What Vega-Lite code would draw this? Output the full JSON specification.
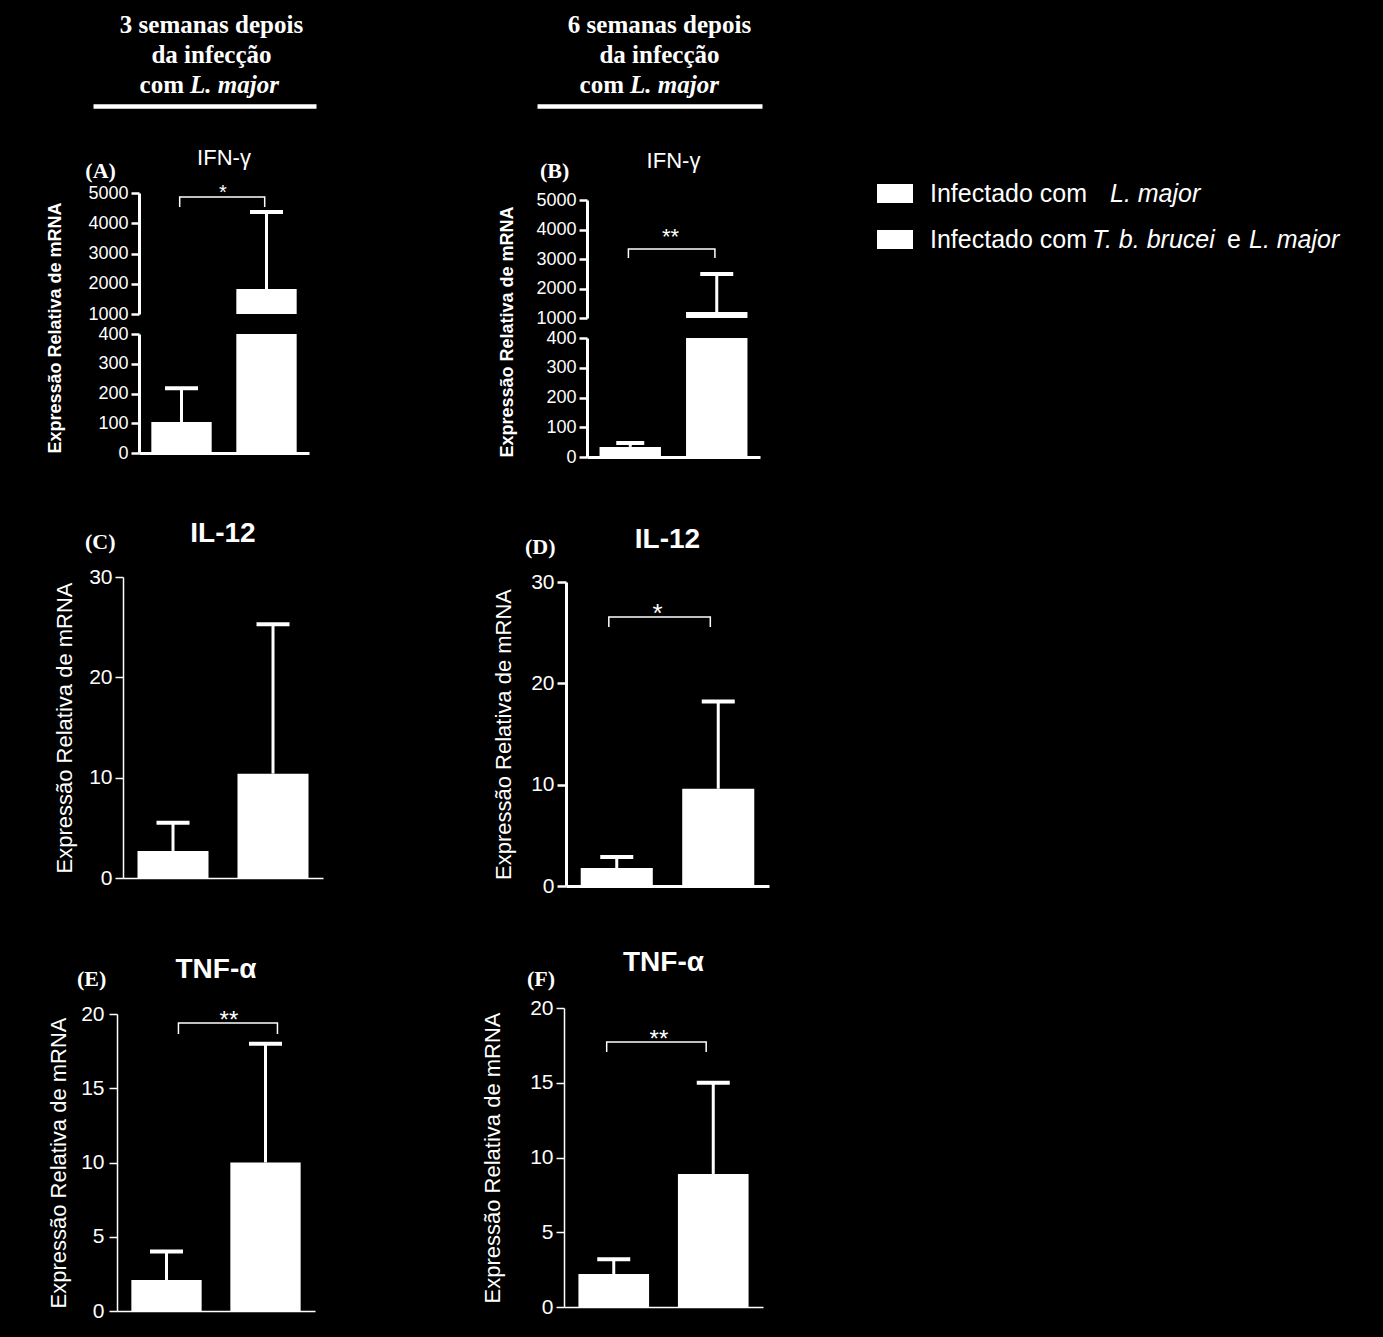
{
"$schema": "https://vega.github.io/schema/vega-lite/v6.json",
"background": "black",
"padding": 0,
"autosize": {"type": "pad"},
"config": {
  "view": {"stroke": null},
  "font": "Liberation Sans",
  "axis": {"grid": false, "domainColor": "white", "tickColor": "white", "labelColor": "white", "titleColor": "white", "labelFont": "Liberation Sans", "titleFont": "Liberation Sans", "labelPadding": 3, "tickSize": 8, "labelOverlap": false, "format": "d"}
},
"datasets": {
  "bars": [
    {"panel":"A","group":"Lm","mean":104,"upper":218},
    {"panel":"A","group":"TbLm","mean":1826,"upper":4372},
    {"panel":"B","group":"Lm","mean":34,"upper":47},
    {"panel":"B","group":"TbLm","mean":1200,"upper":2490},
    {"panel":"C","group":"Lm","mean":2.7,"upper":5.5},
    {"panel":"C","group":"TbLm","mean":10.4,"upper":25.3},
    {"panel":"D","group":"Lm","mean":1.78,"upper":2.86},
    {"panel":"D","group":"TbLm","mean":9.6,"upper":18.2},
    {"panel":"E","group":"Lm","mean":2.09,"upper":4.0},
    {"panel":"E","group":"TbLm","mean":10.0,"upper":18.0},
    {"panel":"F","group":"Lm","mean":2.2,"upper":3.2},
    {"panel":"F","group":"TbLm","mean":8.9,"upper":15.0}
  ],
  "brackets": [
    {"panel":"A","group":"Lm","y":4537,"o":1},{"panel":"A","group":"Lm","y":4868,"o":2},{"panel":"A","group":"TbLm","y":4868,"o":3},{"panel":"A","group":"TbLm","y":4537,"o":4},
    {"panel":"B","group":"Lm","y":3034,"o":1},{"panel":"B","group":"Lm","y":3339,"o":2},{"panel":"B","group":"TbLm","y":3339,"o":3},{"panel":"B","group":"TbLm","y":3034,"o":4},
    {"panel":"D","group":"Lm","y":25.56,"o":1},{"panel":"D","group":"Lm","y":26.55,"o":2},{"panel":"D","group":"TbLm","y":26.55,"o":3},{"panel":"D","group":"TbLm","y":25.56,"o":4},
    {"panel":"E","group":"Lm","y":18.65,"o":1},{"panel":"E","group":"Lm","y":19.39,"o":2},{"panel":"E","group":"TbLm","y":19.39,"o":3},{"panel":"E","group":"TbLm","y":18.65,"o":4},
    {"panel":"F","group":"Lm","y":17.06,"o":1},{"panel":"F","group":"Lm","y":17.73,"o":2},{"panel":"F","group":"TbLm","y":17.73,"o":3},{"panel":"F","group":"TbLm","y":17.06,"o":4}
  ],
  "stars": [
    {"panel":"A","text":"*","y":4808},
    {"panel":"B","text":"**","y":3525},
    {"panel":"D","text":"*","y":26.1},
    {"panel":"E","text":"**","y":19.09},
    {"panel":"F","text":"**","y":17.36}
  ],
  "panels": [
    {"panel":"A","letter":"(A)","name":"IFN-γ"},
    {"panel":"B","letter":"(B)","name":"IFN-γ"},
    {"panel":"C","letter":"(C)","name":"IL-12"},
    {"panel":"D","letter":"(D)","name":"IL-12"},
    {"panel":"E","letter":"(E)","name":"TNF-α"},
    {"panel":"F","letter":"(F)","name":"TNF-α"}
  ],
  "headers": [
    {"side":"L","line":1,"part":"main","text":"3 semanas depois"},
    {"side":"L","line":2,"part":"main","text":"da infecção"},
    {"side":"L","line":3,"part":"com","text":"com"},
    {"side":"L","line":3,"part":"ital","text":"L. major"},
    {"side":"R","line":1,"part":"main","text":"6 semanas depois"},
    {"side":"R","line":2,"part":"main","text":"da infecção"},
    {"side":"R","line":3,"part":"com","text":"com"},
    {"side":"R","line":3,"part":"ital","text":"L. major"}
  ],
  "legendRows": [
    {"row":1,"label":"Infectado com L. major"},
    {"row":2,"label":"Infectado com T. b. brucei e L. major"}
  ],
  "legendText": [
    {"row":1,"seg":"a","text":"Infectado com"},
    {"row":1,"seg":"b","text":"L. major"},
    {"row":2,"seg":"a","text":"Infectado com"},
    {"row":2,"seg":"c","text":"T. b. brucei"},
    {"row":2,"seg":"d","text":"e"},
    {"row":2,"seg":"e","text":"L. major"}
  ]
},
"columns": 3,
"spacing": 0,
"bounds": "flush",
"align": "each",
"concat": [
  {
    "width": 400, "height": 106,
    "layer": [
      {"data": {"name": "headers"}, "transform": [{"filter": "datum.side === 'L' && datum.part === 'main'"}],
       "mark": {"type": "text", "font": "Liberation Serif", "fontWeight": "bold", "fontSize": 25, "color": "white", "align": "center", "baseline": "alphabetic", "dx": 7},
       "encoding": {
         "x": {"datum": 0, "type": "quantitative", "scale": {"domain": [-1, 1], "range": [93, 316], "nice": false}, "axis": {"orient": "bottom", "domain": true, "domainWidth": 4.5, "ticks": false, "labels": false, "title": null}},
         "y": {"field": "line", "type": "quantitative", "scale": {"domain": [-0.11, 3.45], "range": [0, 106], "nice": false, "zero": false}, "axis": null},
         "text": {"field": "text"}}},
      {"data": {"name": "headers"}, "transform": [{"filter": "datum.side === 'L' && datum.part === 'com'"}],
       "mark": {"type": "text", "font": "Liberation Serif", "fontWeight": "bold", "fontSize": 25, "color": "white", "align": "right", "baseline": "alphabetic", "dx": -20.5},
       "encoding": {"x": {"datum": 0, "type": "quantitative"}, "y": {"field": "line", "type": "quantitative"}, "text": {"field": "text"}}},
      {"data": {"name": "headers"}, "transform": [{"filter": "datum.side === 'L' && datum.part === 'ital'"}],
       "mark": {"type": "text", "font": "Liberation Serif", "fontWeight": "bold", "fontStyle": "italic", "fontSize": 25, "color": "white", "align": "left", "baseline": "alphabetic", "dx": -14.5},
       "encoding": {"x": {"datum": 0, "type": "quantitative"}, "y": {"field": "line", "type": "quantitative"}, "text": {"field": "text"}}}
    ]
  },
  {
    "width": 460, "height": 106,
    "layer": [
      {"data": {"name": "headers"}, "transform": [{"filter": "datum.side === 'R' && datum.part === 'main'"}],
       "mark": {"type": "text", "font": "Liberation Serif", "fontWeight": "bold", "fontSize": 25, "color": "white", "align": "center", "baseline": "alphabetic", "dx": 10},
       "encoding": {
         "x": {"datum": 0, "type": "quantitative", "scale": {"domain": [-1, 1], "range": [137, 362], "nice": false}, "axis": {"orient": "bottom", "domain": true, "domainWidth": 4.5, "ticks": false, "labels": false, "title": null}},
         "y": {"field": "line", "type": "quantitative", "scale": {"domain": [-0.11, 3.45], "range": [0, 106], "nice": false, "zero": false}, "axis": null},
         "text": {"field": "text"}}},
      {"data": {"name": "headers"}, "transform": [{"filter": "datum.side === 'R' && datum.part === 'com'"}],
       "mark": {"type": "text", "font": "Liberation Serif", "fontWeight": "bold", "fontSize": 25, "color": "white", "align": "right", "baseline": "alphabetic", "dx": -25.5},
       "encoding": {"x": {"datum": 0, "type": "quantitative"}, "y": {"field": "line", "type": "quantitative"}, "text": {"field": "text"}}},
      {"data": {"name": "headers"}, "transform": [{"filter": "datum.side === 'R' && datum.part === 'ital'"}],
       "mark": {"type": "text", "font": "Liberation Serif", "fontWeight": "bold", "fontStyle": "italic", "fontSize": 25, "color": "white", "align": "left", "baseline": "alphabetic", "dx": -19.5},
       "encoding": {"x": {"datum": 0, "type": "quantitative"}, "y": {"field": "line", "type": "quantitative"}, "text": {"field": "text"}}}
    ]
  },
  {"width": 523, "height": 106, "data": {"values": []}, "mark": "point", "encoding": {}},

  {
    "width": 400, "height": 208,
    "layer": [
      {"data": {"name": "bars"}, "transform": [{"filter": "datum.panel === 'A' && datum.mean >= 1000"}],
       "mark": {"type": "bar", "color": "white"},
       "encoding": {
         "x": {"field": "group", "type": "nominal", "scale": {"domain": ["Lm", "TbLm"], "range": [139, 309], "paddingInner": 0.29, "paddingOuter": 0.145}, "axis": null},
         "y": {"field": "mean", "type": "quantitative", "scale": {"domain": [1000, 5000], "range": [208, 87], "nice": false, "zero": false, "clamp": true},
               "axis": {"title": null, "values": [1000, 2000, 3000, 4000, 5000], "labelOverlap": false, "offset": -139, "labelFontSize": 18, "domainWidth": 3, "tickWidth": 2.5}}}},
      {"data": {"name": "bars"}, "transform": [{"filter": "datum.panel === 'A' && datum.upper >= 1000"}],
       "mark": {"type": "rule", "color": "white", "strokeWidth": 3},
       "encoding": {"x": {"field": "group", "type": "nominal"}, "y": {"field": "mean", "type": "quantitative"}, "y2": {"field": "upper"}}},
      {"data": {"name": "bars"}, "transform": [{"filter": "datum.panel === 'A' && datum.upper >= 1000"}],
       "mark": {"type": "tick", "color": "white", "size": 33, "thickness": 4, "opacity": 1},
       "encoding": {"x": {"field": "group", "type": "nominal"}, "y": {"field": "upper", "type": "quantitative"}}},
      {"data": {"name": "brackets"}, "transform": [{"filter": "datum.panel === 'A'"}],
       "mark": {"type": "line", "color": "white", "strokeWidth": 1.5},
       "encoding": {"x": {"field": "group", "type": "nominal", "bandPosition": 0.47}, "y": {"field": "y", "type": "quantitative"}, "order": {"field": "o"}}},
      {"data": {"name": "stars"}, "transform": [{"filter": "datum.panel === 'A'"}],
       "mark": {"type": "text", "color": "white", "fontSize": 20, "align": "center", "baseline": "alphabetic"},
       "encoding": {"x": {"datum": "Lm", "bandPosition": 1.187}, "y": {"field": "y", "type": "quantitative"}, "text": {"field": "text"}}},
      {"data": {"name": "panels"}, "transform": [{"filter": "datum.panel === 'A'"}],
       "mark": {"type": "text", "color": "white", "font": "Liberation Serif", "fontWeight": "bold", "fontSize": 22, "align": "left", "baseline": "alphabetic", "dx": -66, "dy": -15},
       "encoding": {"x": {"datum": "Lm", "bandPosition": 0}, "y": {"datum": 5000}, "text": {"field": "letter"}}},
      {"data": {"name": "panels"}, "transform": [{"filter": "datum.panel === 'A'"}],
       "mark": {"type": "text", "color": "white", "fontSize": 22, "align": "center", "baseline": "alphabetic", "dy": -28},
       "encoding": {"x": {"datum": "Lm", "bandPosition": 1.204}, "y": {"datum": 5000}, "text": {"field": "name"}}}
    ]
  },
  {
    "width": 460, "height": 212,
    "layer": [
      {"data": {"name": "bars"}, "transform": [{"filter": "datum.panel === 'B' && datum.mean >= 1000"}],
       "mark": {"type": "bar", "color": "white"},
       "encoding": {
         "x": {"field": "group", "type": "nominal", "scale": {"domain": ["Lm", "TbLm"], "range": [187, 360], "paddingInner": 0.29, "paddingOuter": 0.145}, "axis": null},
         "y": {"field": "mean", "type": "quantitative", "scale": {"domain": [1000, 5000], "range": [212, 94], "nice": false, "zero": false, "clamp": true},
               "axis": {"title": null, "values": [1000, 2000, 3000, 4000, 5000], "labelOverlap": false, "offset": -187, "labelFontSize": 18, "domainWidth": 3, "tickWidth": 2.5}}}},
      {"data": {"name": "bars"}, "transform": [{"filter": "datum.panel === 'B' && datum.upper >= 1000"}],
       "mark": {"type": "rule", "color": "white", "strokeWidth": 3},
       "encoding": {"x": {"field": "group", "type": "nominal"}, "y": {"field": "mean", "type": "quantitative"}, "y2": {"field": "upper"}}},
      {"data": {"name": "bars"}, "transform": [{"filter": "datum.panel === 'B' && datum.upper >= 1000"}],
       "mark": {"type": "tick", "color": "white", "size": 33, "thickness": 4, "opacity": 1},
       "encoding": {"x": {"field": "group", "type": "nominal"}, "y": {"field": "upper", "type": "quantitative"}}},
      {"data": {"name": "brackets"}, "transform": [{"filter": "datum.panel === 'B'"}],
       "mark": {"type": "line", "color": "white", "strokeWidth": 1.5},
       "encoding": {"x": {"field": "group", "type": "nominal", "bandPosition": 0.47}, "y": {"field": "y", "type": "quantitative"}, "order": {"field": "o"}}},
      {"data": {"name": "stars"}, "transform": [{"filter": "datum.panel === 'B'"}],
       "mark": {"type": "text", "color": "white", "fontSize": 22, "align": "center", "baseline": "alphabetic"},
       "encoding": {"x": {"datum": "Lm", "bandPosition": 1.156}, "y": {"field": "y", "type": "quantitative"}, "text": {"field": "text"}}},
      {"data": {"name": "panels"}, "transform": [{"filter": "datum.panel === 'B'"}],
       "mark": {"type": "text", "color": "white", "font": "Liberation Serif", "fontWeight": "bold", "fontSize": 22, "align": "left", "baseline": "alphabetic", "dx": -59.5, "dy": -22},
       "encoding": {"x": {"datum": "Lm", "bandPosition": 0}, "y": {"datum": 5000}, "text": {"field": "letter"}}},
      {"data": {"name": "panels"}, "transform": [{"filter": "datum.panel === 'B'"}],
       "mark": {"type": "text", "color": "white", "fontSize": 22, "align": "center", "baseline": "alphabetic", "dy": -32},
       "encoding": {"x": {"datum": "Lm", "bandPosition": 1.204}, "y": {"datum": 5000}, "text": {"field": "name"}}}
    ]
  },
  {
    "width": 523, "height": 212,
    "layer": [
      {"data": {"name": "legendRows"},
       "mark": {"type": "point", "shape": "M0,-0.53H2V0.53H0Z", "size": 1296, "filled": true, "color": "white", "opacity": 1, "strokeWidth": 0},
       "encoding": {
         "x": {"datum": 0, "type": "quantitative", "scale": {"domain": [0, 1], "range": [17, 523], "nice": false}, "axis": null},
         "y": {"field": "row", "type": "ordinal", "scale": {"type": "point", "range": [87.5, 133.5], "padding": 0}, "axis": null}}},
      {"data": {"name": "legendText"}, "transform": [{"filter": "datum.seg === 'a'"}],
       "mark": {"type": "text", "color": "white", "fontSize": 25, "align": "left", "baseline": "middle", "dx": 53},
       "encoding": {"x": {"datum": 0, "type": "quantitative"}, "y": {"field": "row", "type": "ordinal"}, "text": {"field": "text"}}},
      {"data": {"name": "legendText"}, "transform": [{"filter": "datum.seg === 'b'"}],
       "mark": {"type": "text", "color": "white", "fontSize": 25, "fontStyle": "italic", "align": "left", "baseline": "middle", "dx": 233},
       "encoding": {"x": {"datum": 0, "type": "quantitative"}, "y": {"field": "row", "type": "ordinal"}, "text": {"field": "text"}}},
      {"data": {"name": "legendText"}, "transform": [{"filter": "datum.seg === 'c'"}],
       "mark": {"type": "text", "color": "white", "fontSize": 25, "fontStyle": "italic", "align": "left", "baseline": "middle", "dx": 215},
       "encoding": {"x": {"datum": 0, "type": "quantitative"}, "y": {"field": "row", "type": "ordinal"}, "text": {"field": "text"}}},
      {"data": {"name": "legendText"}, "transform": [{"filter": "datum.seg === 'd'"}],
       "mark": {"type": "text", "color": "white", "fontSize": 25, "align": "left", "baseline": "middle", "dx": 350},
       "encoding": {"x": {"datum": 0, "type": "quantitative"}, "y": {"field": "row", "type": "ordinal"}, "text": {"field": "text"}}},
      {"data": {"name": "legendText"}, "transform": [{"filter": "datum.seg === 'e'"}],
       "mark": {"type": "text", "color": "white", "fontSize": 25, "fontStyle": "italic", "align": "left", "baseline": "middle", "dx": 372},
       "encoding": {"x": {"datum": 0, "type": "quantitative"}, "y": {"field": "row", "type": "ordinal"}, "text": {"field": "text"}}}
    ]
  },

  {
    "width": 400, "height": 135,
    "layer": [
      {"data": {"name": "bars"}, "transform": [{"filter": "datum.panel === 'A'"}],
       "mark": {"type": "bar", "color": "white"},
       "encoding": {
         "x": {"field": "group", "type": "nominal", "scale": {"domain": ["Lm", "TbLm"], "range": [139, 309], "paddingInner": 0.29, "paddingOuter": 0.145}, "axis": {"labels": false, "ticks": false, "title": null, "domainWidth": 3}},
         "y": {"field": "mean", "type": "quantitative", "scale": {"domain": [0, 400], "range": [135, 16], "nice": false, "clamp": true},
               "axis": {"title": "Expressão Relativa de mRNA", "titleAnchor": "start", "titleFontSize": 18, "titleFontWeight": "bold", "titlePadding": 33, "values": [0, 100, 200, 300, 400], "tickCount": 5, "labelOverlap": false, "offset": -139, "labelFontSize": 18, "domainWidth": 3, "tickWidth": 2.5}}}},
      {"data": {"name": "bars"}, "transform": [{"filter": "datum.panel === 'A' && datum.upper <= 400"}],
       "mark": {"type": "rule", "color": "white", "strokeWidth": 3},
       "encoding": {"x": {"field": "group", "type": "nominal"}, "y": {"field": "mean", "type": "quantitative"}, "y2": {"field": "upper"}}},
      {"data": {"name": "bars"}, "transform": [{"filter": "datum.panel === 'A' && datum.upper <= 400"}],
       "mark": {"type": "tick", "color": "white", "size": 33, "thickness": 4, "opacity": 1},
       "encoding": {"x": {"field": "group", "type": "nominal"}, "y": {"field": "upper", "type": "quantitative"}}}
    ]
  },
  {
    "width": 460, "height": 139,
    "layer": [
      {"data": {"name": "bars"}, "transform": [{"filter": "datum.panel === 'B'"}],
       "mark": {"type": "bar", "color": "white"},
       "encoding": {
         "x": {"field": "group", "type": "nominal", "scale": {"domain": ["Lm", "TbLm"], "range": [187, 360], "paddingInner": 0.29, "paddingOuter": 0.145}, "axis": {"labels": false, "ticks": false, "title": null, "domainWidth": 3}},
         "y": {"field": "mean", "type": "quantitative", "scale": {"domain": [0, 400], "range": [139, 20], "nice": false, "clamp": true},
               "axis": {"title": "Expressão Relativa de mRNA", "titleAnchor": "start", "titleFontSize": 18, "titleFontWeight": "bold", "titlePadding": 29, "values": [0, 100, 200, 300, 400], "tickCount": 5, "labelOverlap": false, "offset": -187, "labelFontSize": 18, "domainWidth": 3, "tickWidth": 2.5}}}},
      {"data": {"name": "bars"}, "transform": [{"filter": "datum.panel === 'B' && datum.upper <= 400"}],
       "mark": {"type": "rule", "color": "white", "strokeWidth": 3},
       "encoding": {"x": {"field": "group", "type": "nominal"}, "y": {"field": "mean", "type": "quantitative"}, "y2": {"field": "upper"}}},
      {"data": {"name": "bars"}, "transform": [{"filter": "datum.panel === 'B' && datum.upper <= 400"}],
       "mark": {"type": "tick", "color": "white", "size": 28, "thickness": 4, "opacity": 1},
       "encoding": {"x": {"field": "group", "type": "nominal"}, "y": {"field": "upper", "type": "quantitative"}}}
    ]
  },
  {"width": 523, "height": 139, "data": {"values": []}, "mark": "point", "encoding": {}},

  {
    "width": 400, "height": 421,
    "layer": [
      {"data": {"name": "bars"}, "transform": [{"filter": "datum.panel === 'C'"}],
       "mark": {"type": "bar", "color": "white"},
       "encoding": {
         "x": {"field": "group", "type": "nominal", "scale": {"domain": ["Lm", "TbLm"], "range": [123, 323], "paddingInner": 0.29, "paddingOuter": 0.145}, "axis": {"labels": false, "ticks": false, "title": null, "domainWidth": 1.5}},
         "y": {"field": "mean", "type": "quantitative", "scale": {"domain": [0, 30], "range": [421, 120], "nice": false},
               "axis": {"title": "Expressão Relativa de mRNA", "titleFontSize": 22, "titleFontWeight": "normal", "titlePadding": 12.6, "values": [0, 10, 20, 30], "labelOverlap": false, "offset": -123, "labelFontSize": 21, "domainWidth": 1.5, "tickWidth": 1.5}}}},
      {"data": {"name": "bars"}, "transform": [{"filter": "datum.panel === 'C'"}],
       "mark": {"type": "rule", "color": "white", "strokeWidth": 3},
       "encoding": {"x": {"field": "group", "type": "nominal"}, "y": {"field": "mean", "type": "quantitative"}, "y2": {"field": "upper"}}},
      {"data": {"name": "bars"}, "transform": [{"filter": "datum.panel === 'C'"}],
       "mark": {"type": "tick", "color": "white", "size": 33, "thickness": 4, "opacity": 1},
       "encoding": {"x": {"field": "group", "type": "nominal"}, "y": {"field": "upper", "type": "quantitative"}}},
      {"data": {"name": "panels"}, "transform": [{"filter": "datum.panel === 'C'"}],
       "mark": {"type": "text", "color": "white", "font": "Liberation Serif", "fontWeight": "bold", "fontSize": 22, "align": "left", "baseline": "alphabetic", "dx": -52.5, "dy": -28},
       "encoding": {"x": {"datum": "Lm", "bandPosition": 0}, "y": {"datum": 30}, "text": {"field": "letter"}}},
      {"data": {"name": "panels"}, "transform": [{"filter": "datum.panel === 'C'"}],
       "mark": {"type": "text", "color": "white", "fontSize": 28, "fontWeight": "bold", "align": "center", "baseline": "alphabetic", "dy": -35},
       "encoding": {"x": {"datum": "Lm", "bandPosition": 1.204}, "y": {"datum": 30}, "text": {"field": "name"}}}
    ]
  },
  {
    "width": 460, "height": 429,
    "layer": [
      {"data": {"name": "bars"}, "transform": [{"filter": "datum.panel === 'D'"}],
       "mark": {"type": "bar", "color": "white"},
       "encoding": {
         "x": {"field": "group", "type": "nominal", "scale": {"domain": ["Lm", "TbLm"], "range": [166, 369], "paddingInner": 0.29, "paddingOuter": 0.145}, "axis": {"labels": false, "ticks": false, "title": null, "domainWidth": 3}},
         "y": {"field": "mean", "type": "quantitative", "scale": {"domain": [0, 30], "range": [429, 125], "nice": false},
               "axis": {"title": "Expressão Relativa de mRNA", "titleFontSize": 22, "titleFontWeight": "normal", "titlePadding": 15.6, "values": [0, 10, 20, 30], "labelOverlap": false, "offset": -166, "labelFontSize": 21, "domainWidth": 3, "tickWidth": 2.5, "tickSize": 9}}}},
      {"data": {"name": "bars"}, "transform": [{"filter": "datum.panel === 'D'"}],
       "mark": {"type": "rule", "color": "white", "strokeWidth": 3},
       "encoding": {"x": {"field": "group", "type": "nominal"}, "y": {"field": "mean", "type": "quantitative"}, "y2": {"field": "upper"}}},
      {"data": {"name": "bars"}, "transform": [{"filter": "datum.panel === 'D'"}],
       "mark": {"type": "tick", "color": "white", "size": 33, "thickness": 4, "opacity": 1},
       "encoding": {"x": {"field": "group", "type": "nominal"}, "y": {"field": "upper", "type": "quantitative"}}},
      {"data": {"name": "brackets"}, "transform": [{"filter": "datum.panel === 'D'"}],
       "mark": {"type": "line", "color": "white", "strokeWidth": 1.5},
       "encoding": {"x": {"field": "group", "type": "nominal", "bandPosition": 0.39}, "y": {"field": "y", "type": "quantitative"}, "order": {"field": "o"}}},
      {"data": {"name": "stars"}, "transform": [{"filter": "datum.panel === 'D'"}],
       "mark": {"type": "text", "color": "white", "fontSize": 26, "align": "center", "baseline": "alphabetic"},
       "encoding": {"x": {"datum": "Lm", "bandPosition": 1.065}, "y": {"field": "y", "type": "quantitative"}, "text": {"field": "text"}}},
      {"data": {"name": "panels"}, "transform": [{"filter": "datum.panel === 'D'"}],
       "mark": {"type": "text", "color": "white", "font": "Liberation Serif", "fontWeight": "bold", "fontSize": 22, "align": "left", "baseline": "alphabetic", "dx": -55.7, "dy": -28},
       "encoding": {"x": {"datum": "Lm", "bandPosition": 0}, "y": {"datum": 30}, "text": {"field": "letter"}}},
      {"data": {"name": "panels"}, "transform": [{"filter": "datum.panel === 'D'"}],
       "mark": {"type": "text", "color": "white", "fontSize": 28, "fontWeight": "bold", "align": "center", "baseline": "alphabetic", "dy": -34},
       "encoding": {"x": {"datum": "Lm", "bandPosition": 1.204}, "y": {"datum": 30}, "text": {"field": "name"}}}
    ]
  },
  {"width": 523, "height": 429, "data": {"values": []}, "mark": "point", "encoding": {}},

  {
    "width": 400, "height": 425,
    "layer": [
      {"data": {"name": "bars"}, "transform": [{"filter": "datum.panel === 'E'"}],
       "mark": {"type": "bar", "color": "white"},
       "encoding": {
         "x": {"field": "group", "type": "nominal", "scale": {"domain": ["Lm", "TbLm"], "range": [117, 315], "paddingInner": 0.29, "paddingOuter": 0.145}, "axis": {"labels": false, "ticks": false, "title": null, "domainWidth": 1.5}},
         "y": {"field": "mean", "type": "quantitative", "scale": {"domain": [0, 20], "range": [425, 128], "nice": false},
               "axis": {"title": "Expressão Relativa de mRNA", "titleFontSize": 22, "titleFontWeight": "normal", "titlePadding": 10.6, "values": [0, 5, 10, 15, 20], "labelOverlap": false, "offset": -117, "labelFontSize": 21, "labelPadding": 5, "domainWidth": 1.5, "tickWidth": 1.5}}}},
      {"data": {"name": "bars"}, "transform": [{"filter": "datum.panel === 'E'"}],
       "mark": {"type": "rule", "color": "white", "strokeWidth": 3},
       "encoding": {"x": {"field": "group", "type": "nominal"}, "y": {"field": "mean", "type": "quantitative"}, "y2": {"field": "upper"}}},
      {"data": {"name": "bars"}, "transform": [{"filter": "datum.panel === 'E'"}],
       "mark": {"type": "tick", "color": "white", "size": 33, "thickness": 4, "opacity": 1},
       "encoding": {"x": {"field": "group", "type": "nominal"}, "y": {"field": "upper", "type": "quantitative"}}},
      {"data": {"name": "brackets"}, "transform": [{"filter": "datum.panel === 'E'"}],
       "mark": {"type": "line", "color": "white", "strokeWidth": 1.5},
       "encoding": {"x": {"field": "group", "type": "nominal", "bandPosition": 0.67}, "y": {"field": "y", "type": "quantitative"}, "order": {"field": "o"}}},
      {"data": {"name": "stars"}, "transform": [{"filter": "datum.panel === 'E'"}],
       "mark": {"type": "text", "color": "white", "fontSize": 24, "align": "center", "baseline": "alphabetic"},
       "encoding": {"x": {"datum": "Lm", "bandPosition": 1.388}, "y": {"field": "y", "type": "quantitative"}, "text": {"field": "text"}}},
      {"data": {"name": "panels"}, "transform": [{"filter": "datum.panel === 'E'"}],
       "mark": {"type": "text", "color": "white", "font": "Liberation Serif", "fontWeight": "bold", "fontSize": 22, "align": "left", "baseline": "alphabetic", "dx": -54.4, "dy": -28},
       "encoding": {"x": {"datum": "Lm", "bandPosition": 0}, "y": {"datum": 20}, "text": {"field": "letter"}}},
      {"data": {"name": "panels"}, "transform": [{"filter": "datum.panel === 'E'"}],
       "mark": {"type": "text", "color": "white", "fontSize": 28, "fontWeight": "bold", "align": "center", "baseline": "alphabetic", "dy": -36},
       "encoding": {"x": {"datum": "Lm", "bandPosition": 1.204}, "y": {"datum": 20}, "text": {"field": "name"}}}
    ]
  },
  {
    "width": 460, "height": 421,
    "layer": [
      {"data": {"name": "bars"}, "transform": [{"filter": "datum.panel === 'F'"}],
       "mark": {"type": "bar", "color": "white"},
       "encoding": {
         "x": {"field": "group", "type": "nominal", "scale": {"domain": ["Lm", "TbLm"], "range": [164, 363], "paddingInner": 0.29, "paddingOuter": 0.145}, "axis": {"labels": false, "ticks": false, "title": null, "domainWidth": 1.5}},
         "y": {"field": "mean", "type": "quantitative", "scale": {"domain": [0, 20], "range": [421, 122], "nice": false},
               "axis": {"title": "Expressão Relativa de mRNA", "titleFontSize": 22, "titleFontWeight": "normal", "titlePadding": 25.6, "values": [0, 5, 10, 15, 20], "labelOverlap": false, "offset": -164, "labelFontSize": 21, "domainWidth": 1.5, "tickWidth": 1.5}}}},
      {"data": {"name": "bars"}, "transform": [{"filter": "datum.panel === 'F'"}],
       "mark": {"type": "rule", "color": "white", "strokeWidth": 3},
       "encoding": {"x": {"field": "group", "type": "nominal"}, "y": {"field": "mean", "type": "quantitative"}, "y2": {"field": "upper"}}},
      {"data": {"name": "bars"}, "transform": [{"filter": "datum.panel === 'F'"}],
       "mark": {"type": "tick", "color": "white", "size": 33, "thickness": 4, "opacity": 1},
       "encoding": {"x": {"field": "group", "type": "nominal"}, "y": {"field": "upper", "type": "quantitative"}}},
      {"data": {"name": "brackets"}, "transform": [{"filter": "datum.panel === 'F'"}],
       "mark": {"type": "line", "color": "white", "strokeWidth": 1.5},
       "encoding": {"x": {"field": "group", "type": "nominal", "bandPosition": 0.4}, "y": {"field": "y", "type": "quantitative"}, "order": {"field": "o"}}},
      {"data": {"name": "stars"}, "transform": [{"filter": "datum.panel === 'F'"}],
       "mark": {"type": "text", "color": "white", "fontSize": 24, "align": "center", "baseline": "alphabetic"},
       "encoding": {"x": {"datum": "Lm", "bandPosition": 1.14}, "y": {"field": "y", "type": "quantitative"}, "text": {"field": "text"}}},
      {"data": {"name": "panels"}, "transform": [{"filter": "datum.panel === 'F'"}],
       "mark": {"type": "text", "color": "white", "font": "Liberation Serif", "fontWeight": "bold", "fontSize": 22, "align": "left", "baseline": "alphabetic", "dx": -51.4, "dy": -22},
       "encoding": {"x": {"datum": "Lm", "bandPosition": 0}, "y": {"datum": 20}, "text": {"field": "letter"}}},
      {"data": {"name": "panels"}, "transform": [{"filter": "datum.panel === 'F'"}],
       "mark": {"type": "text", "color": "white", "fontSize": 28, "fontWeight": "bold", "align": "center", "baseline": "alphabetic", "dy": -37},
       "encoding": {"x": {"datum": "Lm", "bandPosition": 1.204}, "y": {"datum": 20}, "text": {"field": "name"}}}
    ]
  },
  {"width": 523, "height": 451, "data": {"values": []}, "mark": "point", "encoding": {}}
]
}
